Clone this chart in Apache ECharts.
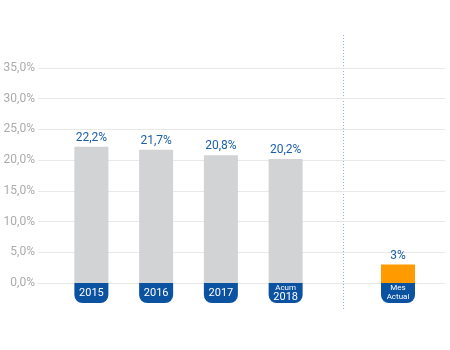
<!DOCTYPE html>
<html>
<head>
<meta charset="utf-8">
<script src="https://cdn.jsdelivr.net/npm/echarts@6/dist/echarts.min.js"></script>
<style>
  html, body { margin: 0; padding: 0; background: #fff; }
  #chart { width: 450px; height: 350px; }
</style>
</head>
<body>
<div id="chart"></div>
<script>
// Yearly values (left block) and current month (right block), in percent
const yearCategories = ['2015', '2016', '2017', 'Acum\n2018'];
const yearValues = [22.2, 21.7, 20.8, 20.2];
const monthCategories = ['Mes\nActual'];
const monthValues = [3];
const monthLabels = ['3%'];
const yTicks = [0, 5, 10, 15, 20, 25, 30, 35];

const BLUE = '#0b53a0';
const LABEL_BLUE = '#1c5fa9';
const GREY_BAR = '#d1d3d4';
const ORANGE = '#ff9a00';

const FONT = 'Roboto, "Open Sans", sans-serif';

function pct(v) {
  return v.toFixed(1).replace('.', ',') + '%';
}

// Tab text: single years centred, two-line captions stacked
function tabLabel(value) {
  if (value.indexOf('\n') >= 0) {
    const parts = value.split('\n');
    if (parts[1] === '2018') return '{s|' + parts[0] + '}\n{b|' + parts[1] + '}';
    return '{s|' + parts[0] + '}\n{s|' + parts[1] + '}';
  }
  return '{c|' + value + '}';
}

const tabAxisLabel = {
  interval: 0,
  margin: 0,
  width: 34,
  height: 20,
  backgroundColor: BLUE,
  borderRadius: [0, 0, 8, 8],
  align: 'center',
  verticalAlign: 'top',
  color: '#fff',
  fontFamily: FONT,
  formatter: tabLabel,
  rich: {
    c: { fontSize: 11, color: '#fff', fontFamily: FONT, lineHeight: 21 },
    b: { fontSize: 11, color: '#fff', fontFamily: FONT, lineHeight: 10 },
    s: { fontSize: 8, color: '#fff', fontFamily: FONT, lineHeight: 9 }
  }
};

const chart = echarts.init(document.getElementById('chart'));

chart.setOption({
  animation: false,
  grid: [
    { left: 38, top: 68, width: 407, height: 215 },
    { left: 59, top: 68, width: 259, height: 215 },
    { left: 366, top: 68, width: 64, height: 215 }
  ],
  xAxis: [
    { gridIndex: 0, type: 'value', show: false, min: 0, max: 1 },
    {
      gridIndex: 1, type: 'category', data: yearCategories,
      axisLine: { show: false }, axisTick: { show: false },
      axisLabel: tabAxisLabel
    },
    {
      gridIndex: 2, type: 'category', data: monthCategories,
      axisLine: { show: false }, axisTick: { show: false },
      axisLabel: tabAxisLabel
    }
  ],
  yAxis: [
    {
      gridIndex: 0, type: 'value', min: yTicks[0], max: yTicks[yTicks.length - 1], interval: 5,
      axisLine: { show: false }, axisTick: { show: false },
      axisLabel: {
        color: '#ababab', fontSize: 12, fontFamily: FONT, margin: 3,
        formatter: pct
      },
      splitLine: { lineStyle: { color: '#e8e8e8', width: 1 } }
    },
    { gridIndex: 1, type: 'value', min: 0, max: 35, show: false },
    { gridIndex: 2, type: 'value', min: 0, max: 35, show: false }
  ],
  series: [
    {
      type: 'bar', xAxisIndex: 1, yAxisIndex: 1,
      data: yearValues, barWidth: 34,
      itemStyle: { color: GREY_BAR },
      label: {
        show: true, position: 'top', distance: 3,
        color: LABEL_BLUE, fontSize: 12, fontFamily: FONT,
        formatter: p => pct(p.value)
      }
    },
    {
      type: 'bar', xAxisIndex: 2, yAxisIndex: 2,
      data: monthValues, barWidth: 34,
      itemStyle: { color: ORANGE },
      label: {
        show: true, position: 'top', distance: 3,
        color: LABEL_BLUE, fontSize: 12, fontFamily: FONT,
        formatter: p => monthLabels[p.dataIndex]
      }
    }
  ],
  graphic: [
    {
      type: 'line', silent: true,
      shape: { x1: 343.5, y1: 35, x2: 343.5, y2: 311 },
      style: { stroke: '#8fb3dc', lineWidth: 1, lineDash: [1, 2] }
    }
  ]
});
</script>
</body>
</html>
